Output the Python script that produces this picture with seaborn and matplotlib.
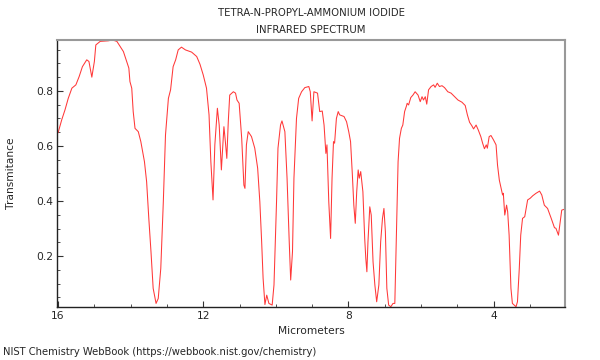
import pandas as pd
import seaborn as sns
import matplotlib.pyplot as plt
from matplotlib.ticker import MultipleLocator

# Spectre (longueur d'onde en µm, transmittance)
wavelength = [
    16.0, 15.9, 15.81, 15.72, 15.62, 15.51, 15.42, 15.33, 15.21, 15.15,
    15.07, 15.0, 14.96, 14.84, 14.62, 14.5, 14.38, 14.2, 14.11, 14.05,
    14.02, 13.97, 13.93, 13.88, 13.79, 13.72, 13.62, 13.56, 13.5, 13.44,
    13.38, 13.3, 13.24, 13.17, 13.1, 13.04, 12.96, 12.9, 12.83, 12.76,
    12.69, 12.6, 12.49, 12.32, 12.18, 12.09, 12.0, 11.91, 11.84, 11.79,
    11.73, 11.68, 11.61, 11.56, 11.5, 11.43, 11.39, 11.35, 11.31, 11.27,
    11.17, 11.11, 11.07, 11.01, 10.94, 10.88, 10.85, 10.81, 10.76, 10.67,
    10.58, 10.5, 10.44, 10.39, 10.35, 10.3, 10.25, 10.19, 10.1, 10.05,
    9.98, 9.94, 9.87, 9.83, 9.75, 9.69, 9.63, 9.59, 9.54, 9.5,
    9.43, 9.37, 9.29, 9.2, 9.09, 9.05, 9.0, 8.95, 8.85, 8.79,
    8.72, 8.67, 8.62, 8.59, 8.54, 8.49, 8.45, 8.41, 8.38, 8.33,
    8.28, 8.24, 8.12, 8.05, 7.99, 7.94, 7.89, 7.85, 7.81, 7.77,
    7.73, 7.7, 7.66, 7.6, 7.55, 7.52, 7.49, 7.46, 7.41, 7.37,
    7.32, 7.27, 7.22, 7.16, 7.11, 7.06, 7.02, 6.98, 6.94, 6.89,
    6.83, 6.77, 6.72, 6.68, 6.63, 6.59, 6.54, 6.5, 6.45, 6.4,
    6.38, 6.34, 6.28, 6.22, 6.16, 6.08, 6.02, 5.97, 5.93, 5.88,
    5.84, 5.79, 5.72, 5.65, 5.61, 5.55, 5.49, 5.42, 5.35, 5.26,
    5.17, 5.07, 4.98, 4.87, 4.78, 4.72, 4.66, 4.6, 4.55, 4.48,
    4.42, 4.35, 4.3, 4.25, 4.2, 4.17, 4.12, 4.07, 4.0, 3.93,
    3.89, 3.84, 3.8, 3.75, 3.73, 3.69, 3.64, 3.61, 3.57, 3.52,
    3.48, 3.38, 3.34, 3.29, 3.25, 3.2, 3.14, 3.06, 2.99, 2.92,
    2.83, 2.73, 2.67, 2.6, 2.51, 2.41, 2.32, 2.28, 2.21, 2.16,
    2.12, 2.05,
]
transmittance = [
    0.648, 0.695, 0.731, 0.773, 0.81, 0.822, 0.852, 0.888, 0.913, 0.907,
    0.85, 0.907, 0.967, 0.98, 0.982, 0.985, 0.98, 0.943, 0.907, 0.883,
    0.834, 0.81, 0.725, 0.664, 0.652, 0.616, 0.543, 0.47, 0.337, 0.216,
    0.083, 0.028, 0.046, 0.155, 0.397, 0.64, 0.773, 0.804, 0.888, 0.913,
    0.949, 0.959, 0.949, 0.941, 0.925, 0.897, 0.858, 0.81, 0.713, 0.543,
    0.404, 0.604, 0.737, 0.676, 0.513, 0.67, 0.616, 0.555, 0.688, 0.785,
    0.797, 0.792, 0.767, 0.755, 0.628, 0.458, 0.446, 0.604, 0.652, 0.634,
    0.592, 0.519, 0.397, 0.252, 0.119, 0.024, 0.058, 0.028, 0.022, 0.095,
    0.397, 0.592, 0.676, 0.691, 0.652, 0.483, 0.252, 0.113, 0.216, 0.483,
    0.7, 0.773, 0.797, 0.812, 0.816, 0.797, 0.691, 0.797, 0.792, 0.725,
    0.727, 0.676, 0.573, 0.604, 0.397, 0.264, 0.483, 0.616, 0.61, 0.7,
    0.725, 0.713, 0.707, 0.688, 0.652, 0.616, 0.495, 0.385, 0.319, 0.434,
    0.513, 0.483, 0.507, 0.434, 0.264, 0.192, 0.143, 0.252, 0.379, 0.349,
    0.179, 0.095, 0.034, 0.095, 0.252, 0.337, 0.373, 0.288, 0.083, 0.022,
    0.016, 0.028, 0.028, 0.252, 0.543, 0.628, 0.664, 0.676, 0.725, 0.745,
    0.755, 0.749, 0.776, 0.785, 0.797, 0.785, 0.761, 0.779, 0.767, 0.779,
    0.752, 0.804, 0.816, 0.822, 0.813, 0.828, 0.816, 0.819, 0.812, 0.797,
    0.792, 0.779, 0.767, 0.759, 0.747, 0.713, 0.686, 0.674, 0.662, 0.676,
    0.658, 0.634, 0.61, 0.59, 0.604, 0.592, 0.634, 0.638, 0.622, 0.604,
    0.531, 0.476, 0.452, 0.422, 0.428, 0.349, 0.385, 0.361, 0.276, 0.083,
    0.028, 0.016, 0.034, 0.155, 0.276, 0.337, 0.343, 0.404, 0.41, 0.419,
    0.428, 0.436, 0.422, 0.385, 0.373, 0.337, 0.303, 0.301, 0.276, 0.325,
    0.367, 0.37,
]
x_ticks = [16, 12, 8, 4]
y_ticks = [0.2, 0.4, 0.6, 0.8]

df = pd.DataFrame({"Micrometers": wavelength, "Transmitance": transmittance})

sns.set_style("white")
plt.rcParams["font.family"] = ["DejaVu Sans"]

fig = plt.figure(figsize=(6, 3.6), dpi=100)
ax = fig.add_axes([57 / 600, 1 - 307 / 360, (565 - 57) / 600, (307 - 40) / 360])

sns.lineplot(data=df, x="Micrometers", y="Transmitance", sort=False,
             estimator=None, color="#ff3838", linewidth=0.75, ax=ax)

ax.set_xlim(16.03, 2.03)
ax.set_ylim(0.015, 0.985)
ax.set_xticks(x_ticks)
ax.set_xticklabels([str(t) for t in x_ticks])
ax.set_yticks(y_ticks)
ax.set_yticklabels([f"{t:.1f}" for t in y_ticks])
ax.xaxis.set_minor_locator(MultipleLocator(1))
ax.yaxis.set_minor_locator(MultipleLocator(0.05))
ax.tick_params(which="both", direction="in", labelsize=7.7, pad=3,
               bottom=True, left=True, top=False, right=False, color="#333333")
ax.tick_params(which="major", length=4)
ax.tick_params(which="minor", length=2.5)

for side in ["left", "bottom"]:
    ax.spines[side].set_color("#222222")
    ax.spines[side].set_linewidth(1.0)
for side in ["top", "right"]:
    ax.spines[side].set_color("#999999")
    ax.spines[side].set_linewidth(1.5)

ax.set_xlabel("Micrometers", fontsize=7.7)
ax.set_ylabel("Transmitance", fontsize=7.7)
ax.xaxis.set_label_coords(0.5, -19 / 267)
ax.yaxis.set_label_coords(-41 / 508, 0.5)

fig.text(311 / 600, 1 - 13 / 360, "TETRA-N-PROPYL-AMMONIUM IODIDE",
         ha="center", va="center", fontsize=7.3)
fig.text(311 / 600, 1 - 30 / 360, "INFRARED SPECTRUM",
         ha="center", va="center", fontsize=7.3)
fig.text(3 / 600, 1 - 352 / 360,
         "NIST Chemistry WebBook (https://webbook.nist.gov/chemistry)",
         ha="left", va="center", fontsize=7.2)

fig.savefig("out.png", dpi=100)
